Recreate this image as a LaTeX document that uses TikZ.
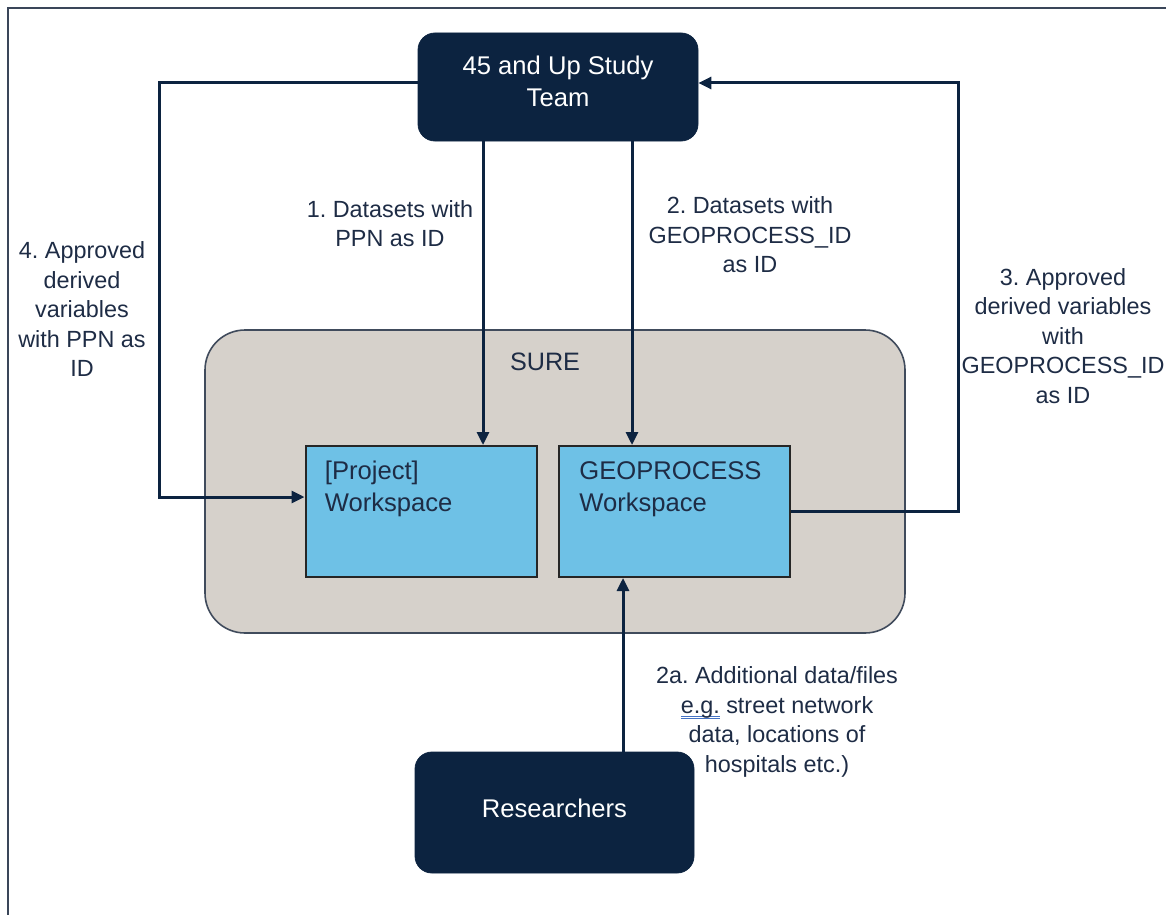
\documentclass[tikz,border=0pt]{standalone}
\usepackage{fontspec}
\setmainfont{Liberation Sans}
\usetikzlibrary{arrows.meta}
\frenchspacing
\definecolor{navy}{HTML}{0C2340}
\definecolor{inktext}{HTML}{1E2C45}
\definecolor{surefill}{HTML}{D6D1CB}
\definecolor{sureline}{HTML}{404B5C}
\definecolor{wsfill}{HTML}{6EC1E6}
\definecolor{framegray}{HTML}{3A4659}
\definecolor{spellblue}{HTML}{4472C4}
\def\spellmark#1{\setbox0\hbox{#1}\rlap{\color{spellblue}\rule[-1.6pt]{\wd0}{0.45pt}\hskip-\wd0\rule[-2.8pt]{\wd0}{0.45pt}}\box0\relax}
\tikzset{
	darkbox/.style={draw=navy, fill=navy, rounded corners=8.5pt},
	darktext/.style={inner sep=0pt, align=center, text=white, font=\fontsize{12.8}{16}\selectfont},
	surebox/.style={draw=sureline, line width=0.8pt, fill=surefill, rounded corners=20pt, minimum width=350pt, minimum height=151.5pt},
	wsbox/.style={draw=black!85, line width=1pt, fill=wsfill, minimum width=115.5pt, minimum height=65.5pt},
	wstext/.style={anchor=north west, inner sep=0pt, align=left, text=inktext, font=\fontsize{12.8}{16}\selectfont},
	note/.style={inner sep=0pt, align=center, text=inktext, font=\fontsize{11.7}{14.75}\selectfont},
	flow/.style={draw=navy, line width=1.5pt, -{Triangle[length=6.5pt,width=6pt]}}
}

\begin{document}
\begin{tikzpicture}[x=0.5pt, y=-0.5pt]
			%%%%% START %%%%%
			
			\useasboundingbox (0, 0) rectangle (1166, 915);
			\draw[framegray, line width=1pt] (1166, 8) -- (8, 8) -- (8, 915);
			
			\node[darkbox, minimum width=140pt, minimum height=54pt] (team) at (558, 87) {};
			\node[darktext] (teamtitle) at (558, 81) {45 and Up Study\\Team};
			\node[darkbox, minimum width=139.5pt, minimum height=60.5pt] (researchers) at (554.5, 812.5) {};
			\node[darktext] (researcherstitle) at (554.5, 808.5) {Researchers};
			
			\node[surebox] (sure) at (555, 481.5) {};
			\node[note, font=\fontsize{12.6}{15}\selectfont] (suretitle) at (545, 362) {SURE};
			
			\node[wsbox] (proj) at (421, 511.5) {};
			\node[wsbox] (geo) at (674.5, 511.5) {};
			\node[wstext] (projtext) at ([xshift=10pt, yshift=-8pt]proj.north west) {[Project]\\Workspace};
			\node[wstext] (geotext) at ([xshift=10.5pt, yshift=-8pt]geo.north west) {GEOPROCESS\\Workspace};
			
			\coordinate (x1) at (483, 0);
			\coordinate (x2) at (632, 0);
			\coordinate (x2a) at (623, 0);
			
			\draw[flow] (team.south -| x1) -- (proj.north -| x1);
			\draw[flow] (team.south -| x2) -- (geo.north -| x2);
			\draw[flow] (researchers.north -| x2a) -- (geo.south -| x2a);
			\draw[flow] (geo.east) -- ++(167, 0) |- ([yshift=2pt]team.east);
			\draw[flow] ([yshift=2pt]team.west) -- ++(-258, 0) |- ([yshift=7.25pt]proj.west);
			
			\node[note] (lab1) at (390, 223.5) {1. Datasets with\\PPN as ID};
			\node[note] (lab2) at (750, 235) {2. Datasets with\\GEOPROCESS\_ID\\as ID};
			\node[note] (lab3) at (1063, 336) {3. Approved\\derived variables\\with\\GEOPROCESS\_ID\\as ID};
			\node[note] (lab4) at (82, 309.5) {4. Approved\\derived\\variables\\with PPN as\\ID};
			\node[note] (lab2a) at (777, 722) {2a. Additional data/files\\\spellmark{e.g.} street network\\data, locations of\\hospitals etc.)};
			
			%%%%% END %%%%%
		\end{tikzpicture}
\end{document}
